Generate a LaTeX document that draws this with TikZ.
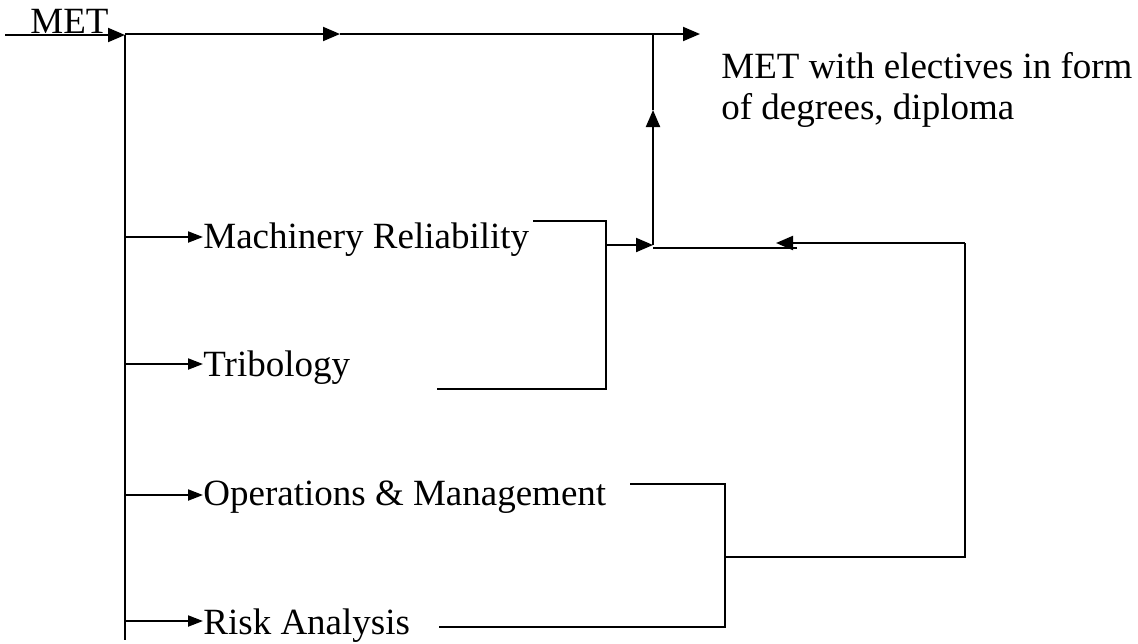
\documentclass[tikz,border=0pt]{standalone}
\usepackage{fontspec}
\setmainfont{Liberation Serif}
\usetikzlibrary{arrows.meta}
\begin{document}
\begin{tikzpicture}[x=0.5pt,y=-0.5pt,
  line/.style={line width=1pt},
  bigarr/.style={line width=1pt,-{Triangle[length=8.5pt,width=7pt]}},
  smallarr/.style={line width=1pt,-{Triangle[length=7.5pt,width=5.5pt]}},
  lbl/.style={inner sep=0pt,anchor=base west,font=\fontsize{18.5}{17}\selectfont}]
\useasboundingbox (0,0) rectangle (1138,643);
% input
\coordinate (in) at (5,35);
\coordinate (j0) at (125,35);
\node[lbl] (met) at (30,33) {MET};
\draw[bigarr] (in) -- (j0);
% top line to output
\coordinate (m1) at (340,34);
\coordinate (top) at (653,34);
\coordinate (out) at (700,34);
\draw[bigarr] (125,34) -- (m1);
\draw[bigarr] (m1) -- (out);
\node[lbl] (res1) at (721,78) {MET with electives in form};
\node[lbl] (res2) at (721,119) {of degrees, diploma};
% spine
\coordinate (sbot) at (125,640);
\draw[line] (j0) -- (sbot);
% branches
\node[lbl] (mr) at (203,248) {Machinery Reliability};
\node[lbl] (tr) at (203,376) {Tribology};
\node[lbl] (om) at (203,505) {Operations \& Management};
\node[lbl] (ra) at (203,634) {Risk Analysis};
\draw[smallarr] (125,237) -- (mr.west |- 0,237);
\draw[smallarr] (125,364) -- (tr.west |- 0,364);
\draw[smallarr] (125,495) -- (om.west |- 0,495);
\draw[smallarr] (125,621) -- (ra.west |- 0,621);
% bracket 1
\coordinate (b1a) at (533,221);
\coordinate (b1b) at (606,221);
\coordinate (b1c) at (606,389);
\coordinate (b1d) at (437,389);
\draw[line] (b1a) -- (b1b) -- (b1c) -- (b1d);
\coordinate (b1m) at (606,245);
\coordinate (jn) at (653,245);
\draw[bigarr] (b1m) -- (jn);
% upward link
\coordinate (up) at (653,110);
\draw[bigarr] (jn) -- (up);
\draw[line] (up) -- (top);
\coordinate (jr) at (797,248);
\draw[line] (653,248) -- (jr);
% bracket 2
\coordinate (b2a) at (630,484);
\coordinate (b2b) at (725,484);
\coordinate (b2c) at (725,627);
\coordinate (b2d) at (439,627);
\draw[line] (b2a) -- (b2b) -- (b2c) -- (b2d);
\coordinate (b2m) at (725,557);
\coordinate (rc1) at (965,557);
\coordinate (rc2) at (965,243);
\coordinate (rin) at (776,243);
\draw[line] (b2m) -- (rc1) -- (rc2);
\draw[bigarr] (rc2) -- (rin);
\end{tikzpicture}
\end{document}
